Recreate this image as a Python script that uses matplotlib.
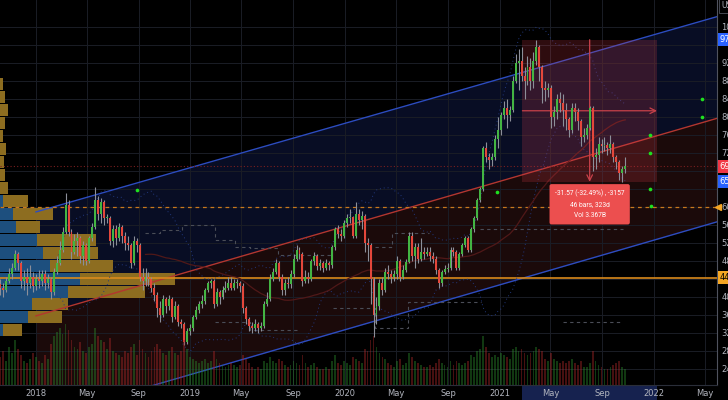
import matplotlib
matplotlib.use('Agg')
import matplotlib.pyplot as plt
import matplotlib.dates as mdates
import matplotlib.transforms as mtrans
from matplotlib.patches import Rectangle
import numpy as np
import pandas as pd

# ---------------- data ----------------
start_week = '2017-10-09'
first_open = 42.8
closes = [42.0, 41.5, 43.5, 45.0, 46.5, 49.5, 47.5, 43.5, 44.5, 43.0,
          44.5, 42.5, 44.0, 43.5, 45.0, 43.0, 44.0, 41.0, 45.5, 47.5,
          50.5, 54.5, 60.5, 54.5, 50.0, 52.5, 53.0, 49.0, 51.5, 48.0,
          53.0, 55.5, 61.5, 58.5, 61.0, 57.5, 57.5, 52.5, 55.0, 53.0,
          55.5, 53.5, 52.0, 51.5, 47.5, 52.5, 51.5, 44.5, 43.5, 44.5,
          44.0, 42.0, 40.5, 37.5, 36.0, 39.5, 38.0, 39.5, 35.5, 38.0,
          34.5, 34.0, 30.0, 32.5, 33.0, 35.5, 37.0, 38.5, 39.0, 41.5,
          43.0, 43.5, 38.5, 41.0, 40.0, 41.5, 42.0, 43.0, 42.0, 43.0,
          43.0, 42.5, 37.5, 35.0, 33.5, 33.0, 34.0, 33.0, 33.5, 38.5,
          39.5, 44.0, 45.5, 47.5, 44.5, 41.5, 43.0, 42.8, 45.0, 48.5,
          50.5, 49.5, 43.5, 44.5, 44.0, 48.0, 49.0, 46.8, 47.5, 46.5,
          47.5, 47.0, 51.0, 55.0, 54.0, 53.5, 56.5, 57.5, 57.8, 53.5,
          58.5, 57.0, 58.0, 52.0, 51.5, 44.0, 36.0, 38.0, 43.0, 41.5,
          45.5, 45.0, 44.5, 45.0, 48.0, 44.5, 46.0, 47.8, 53.5, 49.0,
          51.0, 48.5, 50.0, 49.5, 50.0, 49.0, 48.5, 46.0, 43.0, 45.5,
          46.2, 46.5, 50.5, 50.0, 46.5, 49.5, 51.5, 53.0, 50.5, 55.0,
          57.5, 61.5, 64.0, 73.0, 71.0, 70.5, 71.0, 75.0, 77.0, 80.5,
          82.0, 80.5, 81.5, 88.0, 92.0, 92.5, 89.0, 88.0, 91.0, 88.0,
          92.5, 95.5, 91.0, 86.5, 86.0, 86.5, 80.0, 81.0, 84.0, 83.0,
          81.5, 79.5, 77.0, 82.0, 81.0, 79.0, 75.5, 76.0, 77.5, 82.0,
          71.0, 71.5, 74.0, 73.5, 73.8, 73.0, 74.0, 71.0, 70.0, 67.5,
          68.5, 69.0]
highs = [44.0, 43.0, 44.5, 46.5, 47.5, 50.5, 50.0, 48.0, 46.0, 46.5,
         47.0, 45.5, 45.0, 46.0, 46.0, 46.0, 45.0, 44.5, 46.5, 49.0,
         52.5, 55.5, 63.0, 61.5, 55.0, 54.0, 54.5, 53.5, 52.5, 52.0,
         53.5, 56.5, 64.5, 62.5, 62.0, 61.5, 58.5, 58.0, 56.0, 56.0,
         56.5, 56.0, 54.5, 53.5, 52.0, 53.5, 53.0, 52.0, 46.5, 46.5,
         45.5, 44.5, 43.0, 41.0, 39.0, 40.5, 40.0, 40.5, 40.0, 39.0,
         38.5, 35.0, 34.5, 33.0, 34.0, 36.0, 38.0, 39.0, 40.5, 42.0,
         43.5, 44.0, 44.0, 42.0, 41.5, 42.5, 43.5, 44.5, 44.5, 44.0,
         44.0, 43.5, 43.0, 38.0, 35.5, 34.5, 35.0, 34.5, 34.5, 39.0,
         41.0, 45.0, 46.5, 48.5, 48.0, 45.0, 44.0, 44.5, 46.0, 49.5,
         51.5, 51.0, 50.0, 46.0, 45.5, 48.5, 50.0, 49.5, 48.5, 48.0,
         48.5, 48.0, 51.5, 55.5, 56.0, 55.0, 57.0, 58.5, 59.5, 58.0,
         61.0, 59.5, 59.0, 58.5, 53.0, 52.0, 44.5, 40.0, 44.0, 44.5,
         46.5, 47.0, 46.0, 46.0, 49.0, 48.5, 47.0, 48.5, 54.5, 54.5,
         52.0, 52.0, 53.0, 51.0, 51.0, 51.0, 50.0, 49.0, 46.5, 46.0,
         47.0, 47.5, 51.0, 51.0, 50.5, 50.0, 52.0, 53.5, 53.5, 55.5,
         58.0, 62.0, 64.5, 73.5, 74.5, 72.0, 72.0, 76.0, 80.0, 81.0,
         83.5, 84.0, 82.5, 89.0, 94.0, 95.0, 95.5, 91.0, 93.5, 93.0,
         94.5, 97.2, 96.0, 91.5, 88.0, 87.5, 87.0, 82.5, 85.0, 85.5,
         85.0, 83.0, 80.0, 83.0, 83.0, 82.0, 79.5, 77.5, 78.5, 82.5,
         82.5, 73.0, 75.5, 75.0, 75.5, 74.5, 76.0, 74.5, 71.5, 70.5,
         69.0, 71.0]
lows = [40.5, 40.0, 41.0, 43.0, 44.0, 46.0, 46.0, 42.0, 41.5, 40.5,
        42.0, 41.0, 41.5, 42.0, 42.5, 41.5, 42.0, 39.5, 40.5, 45.0,
        47.0, 50.0, 54.0, 53.5, 48.5, 49.5, 49.0, 47.5, 47.0, 47.0,
        47.5, 52.5, 55.0, 57.0, 56.5, 56.0, 56.5, 51.5, 51.0, 51.5,
        52.5, 52.0, 50.5, 50.5, 46.5, 47.0, 50.0, 43.5, 41.5, 42.5,
        42.5, 41.0, 39.0, 35.5, 34.5, 35.5, 36.5, 37.0, 34.5, 35.0,
        33.5, 33.0, 29.3, 29.5, 31.5, 32.5, 35.0, 36.5, 37.5, 38.5,
        41.0, 42.0, 37.5, 38.0, 38.5, 39.5, 41.0, 41.5, 41.5, 41.5,
        42.0, 41.0, 36.5, 34.0, 32.5, 32.0, 32.5, 32.0, 32.5, 33.0,
        38.0, 39.0, 43.5, 45.0, 43.5, 40.5, 40.5, 42.0, 42.0, 44.5,
        48.0, 48.5, 42.5, 43.0, 43.0, 43.5, 47.0, 46.0, 46.0, 45.5,
        46.0, 46.0, 46.5, 50.5, 53.0, 52.5, 53.0, 55.5, 56.5, 53.0,
        53.0, 56.0, 55.0, 50.0, 48.0, 38.5, 31.0, 34.0, 37.0, 40.5,
        41.0, 44.0, 43.0, 43.5, 44.0, 43.5, 44.0, 45.5, 47.5, 48.0,
        46.5, 47.5, 48.0, 48.5, 49.0, 48.0, 47.5, 45.0, 42.0, 42.5,
        45.0, 45.5, 46.0, 49.0, 46.0, 46.0, 49.0, 51.0, 50.0, 50.0,
        54.5, 57.0, 61.0, 63.5, 70.0, 68.5, 69.0, 70.5, 73.0, 76.0,
        79.5, 77.5, 79.0, 81.0, 87.5, 86.0, 88.0, 84.0, 87.0, 86.0,
        86.5, 91.5, 88.0, 83.0, 83.5, 84.5, 77.5, 78.0, 79.5, 81.0,
        78.0, 77.0, 75.5, 76.5, 79.0, 77.0, 73.5, 74.5, 75.0, 77.0,
        68.0, 68.5, 70.0, 72.0, 72.5, 71.5, 72.0, 70.0, 68.5, 66.0,
        65.6, 67.5]
volumes_m = [70, 85, 60, 95, 80, 110, 90, 75, 60, 55,
             65, 80, 70, 60, 55, 75, 65, 100, 120, 130,
             140, 125, 150, 135, 110, 95, 90, 105, 85, 80,
             95, 100, 140, 120, 110, 105, 90, 115, 85, 80,
             75, 70, 85, 80, 95, 100, 75, 110, 90, 80,
             70, 85, 95, 100, 90, 80, 75, 85, 95, 80,
             75, 85, 110, 90, 70, 65, 60, 55, 60, 65,
             55, 60, 85, 65, 55, 50, 45, 50, 55, 50,
             45, 50, 75, 65, 55, 45, 40, 45, 40, 60,
             55, 70, 60, 55, 65, 60, 50, 45, 50, 60,
             55, 50, 75, 55, 45, 50, 55, 45, 40, 40,
             45, 40, 60, 75, 55, 50, 60, 55, 50, 70,
             65, 60, 55, 90, 85, 110, 120, 95, 80, 70,
             65, 55, 50, 45, 60, 65, 50, 55, 80, 70,
             60, 55, 50, 45, 45, 50, 45, 55, 65, 55,
             50, 45, 60, 50, 60, 55, 50, 55, 60, 75,
             70, 85, 90, 120, 95, 80, 70, 75, 70, 80,
             75, 70, 65, 90, 95, 85, 90, 80, 75, 80,
             85, 95, 90, 85, 65, 60, 80, 65, 60, 55,
             60, 55, 60, 65, 55, 50, 60, 45, 45, 55,
             85, 60, 50, 45, 40, 40, 45, 50, 55, 60,
             45, 40]

# volume profile (left), per price row
profile_prices = [87.4, 84.5, 81.6, 78.7, 75.8, 72.9, 70.0, 67.1, 64.2,
                  61.3, 58.4, 55.6, 52.7, 49.8, 46.9, 44.0, 41.1, 38.4, 35.6, 32.7]
profile_up = [0, 0, 0, 0, 0, 0, 0, 0, 0,
              3, 13, 16, 37, 43, 50, 80, 68, 32, 28, 3]
profile_down = [3, 5, 8, 5, 3, 6, 4, 5, 8,
                25, 40, 24, 59, 55, 63, 95, 77, 36, 34, 19]

# regression channel endpoints
channel_dates = ['2018-01-01', '2022-05-30']
channel_upper = [58.9, 102.3]
channel_mid = [35.8, 79.7]
channel_lower = [12.8, 56.7]

level_solid = 44.3
level_dashed = 59.9
last_price = 69.0

# stepped dashed support / resistance levels (NaN separates segments)
step_hi_dates = ['2018-09-16', '2018-10-21', '2018-12-12', '2019-02-28', '2019-04-16',
                 '2019-05-22', '2019-07-27', '2019-12-04', '2019-12-05',
                 '2020-03-12', '2020-04-22', '2020-07-16', '2020-07-17',
                 '2020-11-16', '2021-10-20']
step_hi_prices = [54.2, 54.9, 56.0, 52.7, 51.1, 50.9, 49.3, 49.3, np.nan,
                  51.1, 54.2, 54.2, np.nan, 55.0, 55.0]
step_lo_dates = ['2019-02-28', '2019-05-22', '2019-09-15', '2019-09-16',
                 '2019-12-04', '2020-03-12', '2020-05-30', '2020-11-16', '2020-11-17',
                 '2021-06-01', '2021-10-20']
step_lo_prices = [34.4, 32.7, 32.7, np.nan, 37.6, 33.1, 38.9, 38.9, np.nan,
                  34.4, 34.4]

# measurement tool
meas_start, meas_end = '2021-02-24', '2022-01-08'
meas_high, meas_low = 97.17, 65.60
meas_text = "-31.57 (-32.49%) , -3157\n46 bars, 323d\nVol 3.367B"

dot_dates = ['2018-08-28', '2020-12-27', '2021-12-23', '2021-12-23',
             '2021-12-23', '2021-12-25', '2022-04-24', '2022-04-24']
dot_prices = [63.8, 63.4, 76.0, 72.0, 64.0, 60.3, 84.0, 80.0]

tick_dates = ['2018-01-01', '2018-05-01', '2018-09-01', '2019-01-01', '2019-05-01',
              '2019-09-01', '2020-01-01', '2020-05-01', '2020-09-01', '2021-01-01',
              '2021-05-01', '2021-09-01', '2022-01-01', '2022-05-01']
tick_labels = ['2018', 'May', 'Sep', '2019', 'May', 'Sep', '2020', 'May', 'Sep',
               '2021', 'May', 'Sep', '2022', 'May']
price_ticks = list(range(24, 101, 4))

# ---------------- styling ----------------
BG = '#000000'
TXT = '#b2b5be'
UP = '#43b543'
DN = '#e4473b'
WICK = '#8c8f99'

def d(s):
    return mdates.date2num(pd.Timestamp(s))

fig = plt.figure(figsize=(7.28, 4.0), dpi=100, facecolor=BG)
rect = [0, 15 / 400, 717 / 728, 385 / 400]
ax = fig.add_axes(rect, facecolor=BG)
xmin, xmax = d('2017-10-08'), d('2022-05-30')
ax.set_xlim(xmin, xmax)
ax.set_ylim(20.44, 106.0)

dates = mdates.date2num(pd.date_range(start_week, periods=len(closes), freq='7D'))
opens = [first_open] + closes[:-1]
closes_a = np.array(closes)
opens_a = np.array(opens)

# channel fills
cx = [d(s) for s in channel_dates]
ax.fill_between(cx, channel_mid, channel_upper, color='#080d24', lw=0, zorder=0.1)
ax.fill_between(cx, channel_lower, channel_mid, color='#1b0a0a', lw=0, zorder=0.1)

# tags on the price scale (hide tick labels they cover)
tags = [(meas_high, '#2962ff', 'white'), (last_price, '#f23645', 'white'),
        (meas_low, '#2962ff', 'white'), (level_solid, '#f5a623', 'black')]

# grid / ticks
ax.set_xticks([d(s) for s in tick_dates])
ax.set_xticklabels(tick_labels)
ax.set_yticks(price_ticks)
ax.set_yticklabels([f'{p:.2f}' if all(abs(p - t[0]) > 1.6 for t in tags) else ''
                    for p in price_ticks])
ax.grid(True, color='#1a1d26', lw=0.7, zorder=0.3)
ax.set_axisbelow(True)
ax.yaxis.tick_right()
ax.tick_params(axis='y', length=0, pad=3, labelsize=6, labelcolor=TXT)
ax.tick_params(axis='x', length=0, pad=3, labelsize=6, labelcolor=TXT)
for s in ['top', 'left']:
    ax.spines[s].set_visible(False)
ax.spines['right'].set_color('#50535e')
ax.spines['bottom'].set_color('#2a2e39')

# volume profile
px_per_day = 0.423
unit_days = 1.0 / px_per_day
up_w = np.array(profile_up) * unit_days
dn_w = np.array(profile_down) * unit_days
ax.barh(profile_prices, up_w, left=xmin, height=2.6, color='#1d4f7e', lw=0, zorder=0.6)
ax.barh(profile_prices, dn_w, left=xmin + up_w, height=2.6, color='#8d6d20', lw=0, zorder=0.6)

# channel lines
ax.plot(cx, channel_upper, color='#2c4cc0', lw=1.0, zorder=1)
ax.plot(cx, channel_lower, color='#2c4cc0', lw=1.0, zorder=1)
ax.plot(cx, channel_mid, color='#b3362f', lw=1.0, zorder=1)

# levels
ax.axhline(level_solid, color='#d98a1c', lw=1.2, zorder=1.1)
ax.axhline(level_dashed, color='#c8781e', lw=0.9, ls=(0, (3, 3)), zorder=1.1)
ax.axhline(last_price, color='#7a1f1f', lw=0.8, ls=(0, (1, 2)), zorder=1.1)

# stepped dashed levels
ax.plot([d(x) for x in step_hi_dates], step_hi_prices, drawstyle='steps-post',
        color='#4a4d57', lw=0.8, ls=(0, (3, 3)), zorder=1.15)
ax.plot([d(x) for x in step_lo_dates], step_lo_prices, drawstyle='steps-post',
        color='#4a4d57', lw=0.8, ls=(0, (3, 3)), zorder=1.15)

# indicators derived from closes
s = pd.Series(closes)
mid20 = s.rolling(20).mean()
sd20 = s.rolling(20).std(ddof=0)
ax.plot(dates, mid20 + 2 * sd20, color='#22397f', lw=0.7, ls=(0, (1, 3)), zorder=1.2)
ax.plot(dates, mid20 - 2 * sd20, color='#22397f', lw=0.7, ls=(0, (1, 3)), zorder=1.2)
ax.plot(dates, s.rolling(50).mean(), color='#501818', lw=0.9, zorder=1.2)

# measurement rectangle
m0, m1 = d(meas_start), d(meas_end)
ax.add_patch(Rectangle((m0, meas_low), m1 - m0, meas_high - meas_low,
                       facecolor='#e84050', alpha=0.2, lw=0, zorder=1.3))
mmid_d = (m0 + m1) / 2
mmid_p = (meas_high + meas_low) / 2
ax.annotate('', xy=(m1, mmid_p), xytext=(m0, mmid_p),
            arrowprops=dict(arrowstyle='->', color='#c8414a', lw=0.9, shrinkA=0, shrinkB=0),
            zorder=1.4)
ax.annotate('', xy=(mmid_d, meas_low), xytext=(mmid_d, meas_high),
            arrowprops=dict(arrowstyle='->', color='#c8414a', lw=0.9, shrinkA=0, shrinkB=0),
            zorder=1.4)

# candles
colors = [UP if c >= o else DN for o, c in zip(opens, closes)]
ax.vlines(dates, lows, highs, color=WICK, lw=0.8, zorder=2)
body = np.maximum(np.abs(closes_a - opens_a), 0.3)
bottom = np.minimum(closes_a, opens_a)
ax.bar(dates, body, bottom=bottom, width=4.6, color=colors, lw=0, zorder=3)

# green dots
ax.scatter([d(x) for x in dot_dates], dot_prices, s=7, color='#1fe01f', zorder=4, lw=0)

# measurement label
ax.text(mmid_d, 60.6, meas_text, ha='center', va='center', fontsize=4.8,
        color='white', linespacing=1.8, family='Roboto', zorder=5,
        bbox=dict(boxstyle='round,pad=0.8,rounding_size=0.3', fc='#ec4f4f', ec='none'))

# volume on own axes
axv = fig.add_axes(rect, sharex=ax, facecolor='none')
axv.set_ylim(0, 950)
vcol = ['#a82828' if c == DN else '#2a882a' for c in colors]
axv.bar(dates, volumes_m, width=4.2, color=vcol, alpha=0.42, lw=0)
axv.axis('off')
ax.set_xlim(xmin, xmax)

# right-axis labels
bt = mtrans.blended_transform_factory(ax.transAxes, ax.transData)
for p, fc, tc in tags:
    ax.text(1.004, p, f'{p:.2f}', transform=bt, ha='left', va='center', fontsize=6,
            color=tc, clip_on=False, zorder=10,
            bbox=dict(boxstyle='square,pad=0.25', fc=fc, ec='none'))
ax.plot([1.002], [level_dashed], marker='<', ms=4, color='#f5a623', transform=bt,
        clip_on=False, zorder=10)
ax.text(1.006, 0.985, 'USD', transform=ax.transAxes, ha='left', va='center', fontsize=5.5,
        color=TXT, clip_on=False,
        bbox=dict(boxstyle='square,pad=0.3', fc=BG, ec='#50535e', lw=0.6))

# highlighted range on the time axis
bx = mtrans.blended_transform_factory(ax.transData, fig.transFigure)
fig.patches.append(Rectangle((m0, 0), m1 - m0, 15 / 400, transform=bx,
                             facecolor='#16224f', lw=0, zorder=-1))

fig.savefig('out.png', dpi=100, facecolor=BG)
